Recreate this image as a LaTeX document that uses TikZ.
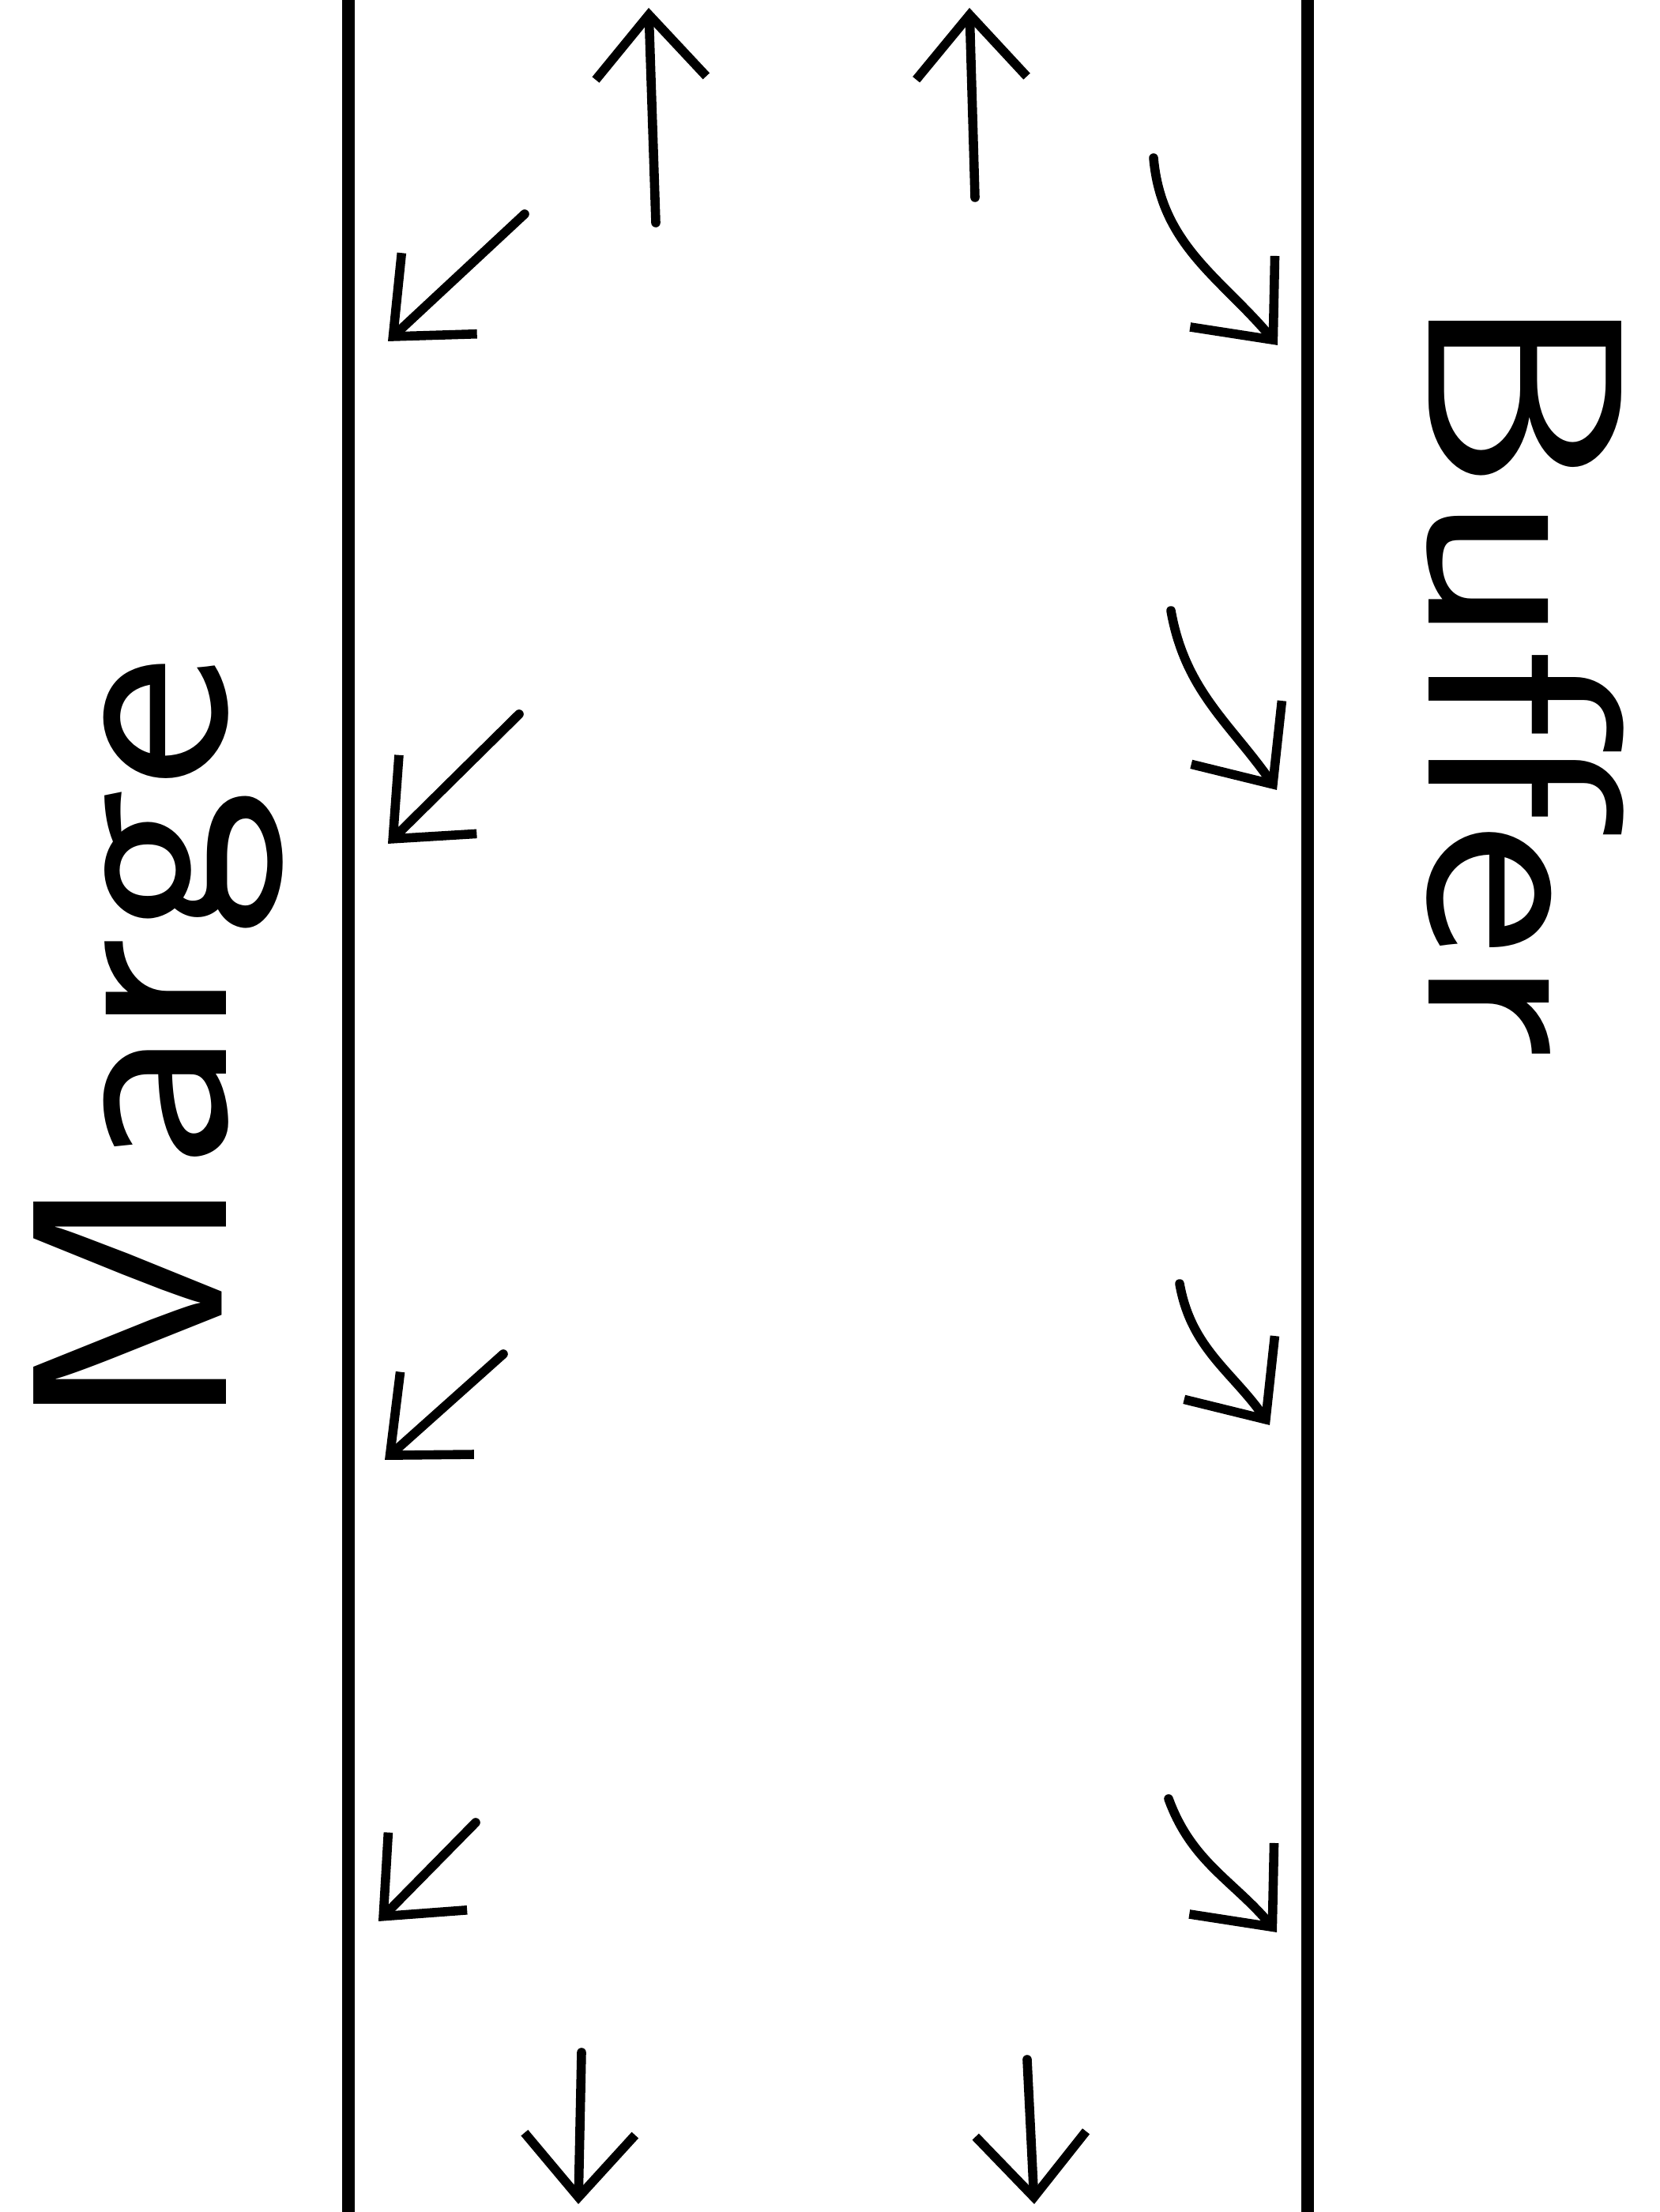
\documentclass[tikz,border=0pt]{standalone}
\usepackage{tikz}
\usetikzlibrary{arrows.meta, positioning, calc}

\begin{document}
\begin{tikzpicture}[
                wall/.style={line width=4.3pt},
                flow/.style={line width=3.3pt, line cap=round, line join=round, -{Straight Barb[length=8mm, width=14mm, line width=3.3pt]}},
                sidelabel/.style={font=\sffamily\fontsize{100}{100}\selectfont, inner sep=0pt}
            ]
            \useasboundingbox (0,0) rectangle (21,28);

            % Rand
            \coordinate (wl-top) at (4.41,28);
            \coordinate (wl-bot) at (4.41,0);
            \coordinate (wr-top) at (16.55,28);
            \coordinate (wr-bot) at (16.55,0);
            \draw[wall] (wl-bot) -- (wl-top);
            \draw[wall] (wr-bot) -- (wr-top);

            % Beschriftung
            \node[sidelabel, rotate=90, xscale=1.14] (marge) at (2.0,14.78) {Marge};
            \node[sidelabel, rotate=-90, xscale=1.15] (buffer) at (19.3,19.45) {Buffer};

            % Pfeile: Start- und Endpunkte
            \coordinate (up1-s) at (8.30,25.18);   \coordinate (up1-e) at (8.21,27.90);
            \coordinate (up2-s) at (12.34,25.50);  \coordinate (up2-e) at (12.27,27.90);
            \coordinate (ld1-s) at (6.64,25.29);   \coordinate (ld1-e) at (4.91,23.68);
            \coordinate (ld2-s) at (6.57,18.96);   \coordinate (ld2-e) at (4.91,17.32);
            \coordinate (ld3-s) at (6.37,10.86);   \coordinate (ld3-e) at (4.87,9.52);
            \coordinate (ld4-s) at (6.02,4.93);    \coordinate (ld4-e) at (4.79,3.68);
            \coordinate (rd1-s) at (14.60,26.00);  \coordinate (rd1-e) at (16.17,23.63);
            \coordinate (rd2-s) at (14.82,20.27);  \coordinate (rd2-e) at (16.16,18.00);
            \coordinate (rd3-s) at (14.93,11.75);  \coordinate (rd3-e) at (16.07,9.96);
            \coordinate (rd4-s) at (14.79,5.23);   \coordinate (rd4-e) at (16.16,3.54);
            \coordinate (dn1-s) at (7.36,2.02);    \coordinate (dn1-e) at (7.32,0.10);
            \coordinate (dn2-s) at (13.00,1.93);   \coordinate (dn2-e) at (13.09,0.10);

            % Pfeile
            \draw[flow] (up1-s) -- (up1-e);
            \draw[flow] (up2-s) -- (up2-e);
            \draw[flow] (ld1-s) -- (ld1-e);
            \draw[flow] (ld2-s) -- (ld2-e);
            \draw[flow] (ld3-s) -- (ld3-e);
            \draw[flow] (ld4-s) -- (ld4-e);
            \draw[flow] (rd1-s) to[out=-85, in=130] (rd1-e);
            \draw[flow] (rd2-s) to[out=-80, in=125] (rd2-e);
            \draw[flow] (rd3-s) to[out=-80, in=125] (rd3-e);
            \draw[flow] (rd4-s) to[out=-70, in=130] (rd4-e);
            \draw[flow] (dn1-s) -- (dn1-e);
            \draw[flow] (dn2-s) -- (dn2-e);

        \end{tikzpicture}
\end{document}
